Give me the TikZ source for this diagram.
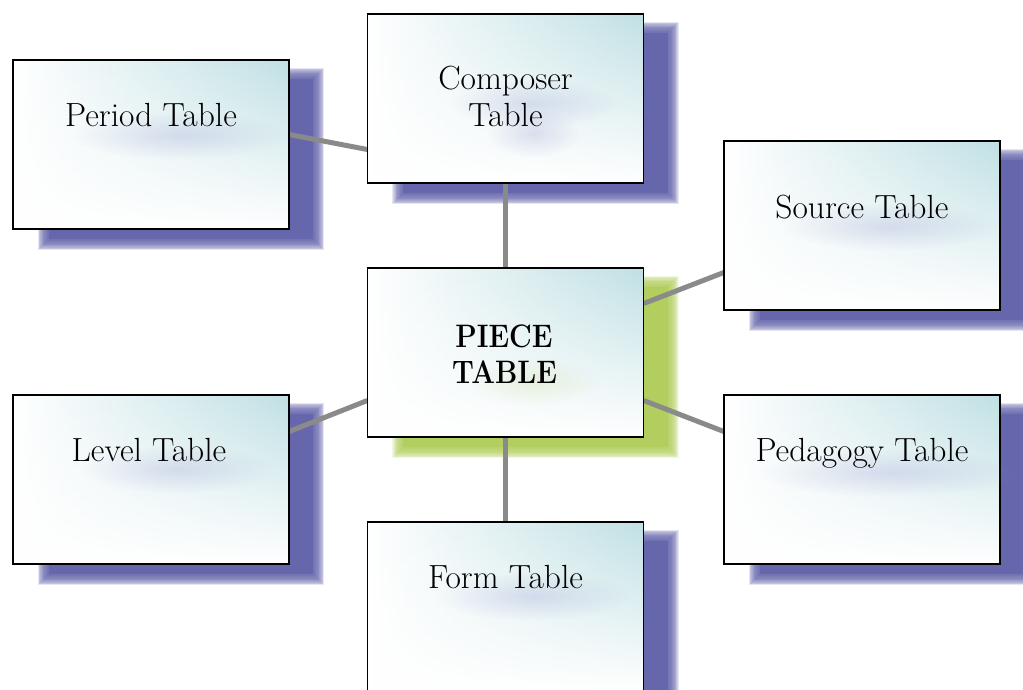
\documentclass[tikz,border=0pt]{standalone}
\usetikzlibrary{calc,fadings}
\definecolor{tealc}{RGB}{192,224,228}
\definecolor{shadowblue}{RGB}{102,102,172}
\definecolor{shadowgreen}{RGB}{178,206,94}
\definecolor{smudgeblue}{RGB}{150,155,210}
\definecolor{smudgegreen}{RGB}{200,220,150}
\definecolor{linkgray}{RGB}{138,138,138}
\pgfdeclarelayer{bg}
\pgfdeclarelayer{mid}
\pgfdeclarelayer{smear}
\pgfsetlayers{bg,mid,main,smear}
\tikzfading[name=smudge, inner color=transparent!30, outer color=transparent!100]
\tikzset{
  tbl/.style={rectangle, minimum width=276pt, minimum height=169pt, inner sep=0pt,
    left color=white, right color=tealc,
    postaction={fill=white, path fading=north},
    postaction={draw=black, line width=1.6pt}},
  lbl/.style={anchor=base, font=\fontsize{33.5}{40}\selectfont, inner sep=0pt},
  blbl/.style={lbl, font=\fontsize{32.5}{40}\selectfont\bfseries},
  link/.style={draw=linkgray, line width=5pt},
}
\newcommand\softshadow[2]{%
  \foreach \i in {0,...,13}{%
    \fill[#2, opacity=0.16] ($(#1.north west)+(25+0.8*\i,8+0.8*\i)$) rectangle ($(#1.south east)+(35-0.8*\i,21-0.8*\i)$);}
  \fill[#2] ($(#1.north west)+(36,19)$) rectangle ($(#1.south east)+(24,10)$);
}
\newcommand\smudge[3]{%
  \fill[#2, opacity=0.4, path fading=smudge] let \p1=($(#1.east)-(#1.west)$) in
    ($(#1.center)+(28,#3)$) ellipse [x radius=0.62*\x1, y radius=24pt];
}
\begin{document}
\begin{tikzpicture}[x=1pt,y=-1pt]
\useasboundingbox (0,0) rectangle (1023,690);
\node[tbl] (period)   at (151,144.5) {};
\node[tbl] (composer) at (505.5,98.5) {};
\node[tbl] (source)   at (862,225.5) {};
\node[tbl] (piece)    at (505.5,352.5) {};
\node[tbl] (level)    at (151,479.5) {};
\node[tbl] (pedagogy) at (862,479.5) {};
\node[tbl] (form)     at (505.5,606.5) {};

\begin{pgfonlayer}{smear}
\node[lbl] (tperiod) at (151,127) {Period Table};
\node[lbl] (tcomp1) at (505.5,90) {Composer};
\node[lbl] (tcomp2) at (505.5,127) {Table};
\node[lbl] (tsource) at (862,218) {Source Table};
\node[blbl] (tpiece1) at (504,347) {\scalebox{0.86}[1]{PIECE}};
\node[blbl] (tpiece2) at (504.5,383) {\scalebox{0.86}[1]{TABLE}};
\node[lbl] (tlevel) at (149,461) {Level Table};
\node[lbl] (tped) at (862,461) {Pedagogy Table};
\node[lbl] (tform) at (505.5,588) {Form Table};
\end{pgfonlayer}

\smudge{tperiod}{smudgeblue}{20}
\smudge{tcomp1}{smudgeblue}{22}
\smudge{tcomp2}{smudgeblue}{18}
\smudge{tsource}{smudgeblue}{20}
\smudge{tpiece2}{smudgegreen}{10}
\smudge{tlevel}{smudgeblue}{20}
\smudge{tped}{smudgeblue}{20}
\smudge{tform}{smudgeblue}{20}

\begin{pgfonlayer}{bg}
  \softshadow{period}{shadowblue}
  \softshadow{composer}{shadowblue}
  \softshadow{source}{shadowblue}
  \softshadow{piece}{shadowgreen}
  \softshadow{level}{shadowblue}
  \softshadow{pedagogy}{shadowblue}
  \softshadow{form}{shadowblue}
\end{pgfonlayer}

\begin{pgfonlayer}{mid}
  \draw[link] ($(period.east)+(0,-10)$) -- ($(composer.west)+(0,51)$);
  \draw[link] (composer.south) -- (piece.north);
  \draw[link] ($(piece.east)+(0,-49)$) -- ($(source.west)+(0,47)$);
  \draw[link] ($(level.east)+(0,-48)$) -- ($(piece.west)+(0,48)$);
  \draw[link] ($(piece.east)+(0,48)$) -- ($(pedagogy.west)+(0,-48)$);
  \draw[link] (piece.south) -- (form.north);
\end{pgfonlayer}
\end{tikzpicture}
\end{document}
